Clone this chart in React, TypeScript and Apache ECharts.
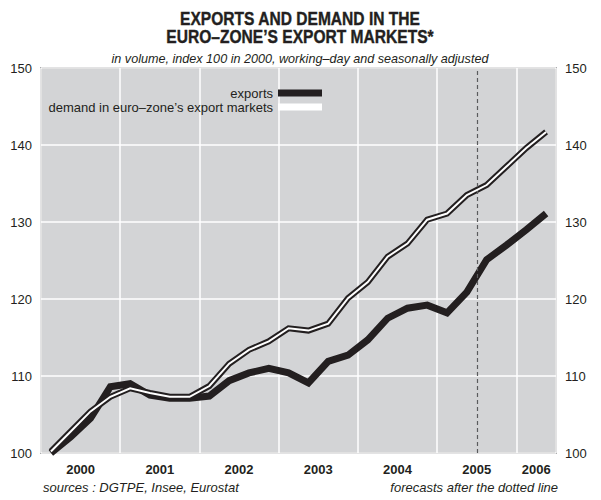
import React, { useEffect, useRef } from "react";
import * as echarts from "echarts";

const years = ["2000", "2001", "2002", "2003", "2004", "2005", "2006"];
const quarters = [
  "2000Q1", "2000Q2", "2000Q3", "2000Q4",
  "2001Q1", "2001Q2", "2001Q3", "2001Q4",
  "2002Q1", "2002Q2", "2002Q3", "2002Q4",
  "2003Q1", "2003Q2", "2003Q3", "2003Q4",
  "2004Q1", "2004Q2", "2004Q3", "2004Q4",
  "2005Q1", "2005Q2", "2005Q3", "2005Q4",
  "2006Q1", "2006Q2",
];
const exportsValues = [
  100.0, 102.1, 104.5, 108.6,
  109.0, 107.5, 107.1, 107.1,
  107.4, 109.4, 110.4, 111.0,
  110.4, 109.1, 111.9, 112.7,
  114.7, 117.5, 118.8, 119.2,
  118.2, 120.9, 125.1, 127.0,
  129.0, 131.1,
];
const demandValues = [
  100.2, 102.8, 105.4, 107.3,
  108.4, 107.8, 107.3, 107.3,
  108.7, 111.6, 113.4, 114.5,
  116.2, 115.9, 116.8, 120.1,
  122.2, 125.5, 127.2, 130.3,
  131.1, 133.5, 134.8, 137.2,
  139.6, 141.7,
];
const yTicks = [100, 110, 120, 130, 140, 150];
const forecastStartQuarter = "2005Q3";

const TITLE_1 = "EXPORTS AND DEMAND IN THE";
const TITLE_2 = "EURO–ZONE’S EXPORT MARKETS*";
const SUBTITLE = "in volume, index 100 in 2000, working–day and seasonally adjusted";
const SOURCES = "sources : DGTPE, Insee, Eurostat";
const NOTE = "forecasts after the dotted line";
const EXPORTS_NAME = "exports";
const DEMAND_NAME = "demand in euro–zone’s export markets";

const SANS = "'Liberation Sans', Arial, Helvetica, sans-serif";
const INK = "#231f20";

export default function App() {
  const ref = useRef<HTMLDivElement>(null);
  useEffect(() => {
    if (!ref.current) return;
    const chart = echarts.init(ref.current, undefined, { renderer: "svg" });
    const nQ = quarters.length;
    const xMax = nQ;
    const pts = (vals: number[]) => vals.map((v, i) => [i + 0.5, v]);
    const forecastX = quarters.indexOf(forecastStartQuarter);
    const labelFor = (v: number) => {
      for (let y = 0; y < years.length; y++) {
        const start = y * 4;
        const end = Math.min(start + 4, xMax);
        if (Math.abs(v - (start + end) / 2) < 1e-6) return years[y];
      }
      return "";
    };
    const yMin = yTicks[0];
    const yMax = yTicks[yTicks.length - 1];
    const yInt = yTicks[1] - yTicks[0];
    const yAxisCommon = {
      type: "value",
      min: yMin,
      max: yMax,
      interval: yInt,
      axisLine: { show: false },
      axisTick: { show: false },
      axisLabel: { color: INK, fontSize: 13, fontFamily: SANS, margin: 9 },
    };
    const titleFont = `bold 19px ${SANS}`;
    chart.setOption({
      animation: false,
      backgroundColor: "#ffffff",
      graphic: [
        {
          type: "text",
          x: 300,
          y: 18,
          scaleX: 0.82,
          style: {
            text: TITLE_1,
            font: titleFont,
            fill: INK,
            stroke: INK,
            lineWidth: 0.4,
            align: "center",
            verticalAlign: "middle",
          },
        },
        {
          type: "text",
          x: 300,
          y: 36,
          scaleX: 0.82,
          style: {
            text: TITLE_2,
            font: titleFont,
            fill: INK,
            stroke: INK,
            lineWidth: 0.4,
            align: "center",
            verticalAlign: "middle",
          },
        },
        {
          type: "text",
          x: 300,
          y: 58,
          scaleX: 0.97,
          style: {
            text: SUBTITLE,
            font: `italic 13px ${SANS}`,
            fill: INK,
            align: "center",
            verticalAlign: "middle",
          },
        },
      ],
      title: [
        {
          text: SOURCES,
          left: 43,
          top: 481,
          padding: 0,
          textStyle: {
            fontFamily: SANS,
            fontStyle: "italic",
            fontWeight: "normal",
            fontSize: 13,
            color: INK,
          },
        },
        {
          text: NOTE,
          right: 43,
          top: 481,
          padding: 0,
          textStyle: {
            fontFamily: SANS,
            fontStyle: "italic",
            fontWeight: "normal",
            fontSize: 13,
            color: INK,
          },
        },
      ],
      legend: {
        orient: "vertical",
        align: "right",
        right: 274,
        top: 81,
        itemWidth: 44,
        itemHeight: 7,
        itemGap: 0,
        icon: "rect",
        data: [
          { name: EXPORTS_NAME, itemStyle: { color: INK } },
          { name: DEMAND_NAME, itemStyle: { color: "#ffffff" } },
        ],
        textStyle: { color: INK, fontSize: 13, fontFamily: SANS, lineHeight: 14 },
        selectedMode: false,
      },
      grid: {
        left: 41,
        right: 45,
        top: 68,
        bottom: 47,
        show: true,
        backgroundColor: "#d3d4d6",
        borderColor: "#6d6e70",
        borderWidth: 1.5,
      },
      xAxis: [
        {
          type: "value",
          min: 0,
          max: xMax,
          interval: 4,
          axisLine: { show: false },
          axisTick: { show: false },
          axisLabel: { show: false },
          splitLine: { show: true, lineStyle: { color: "#ffffff", width: 1.5 } },
        },
        {
          type: "value",
          position: "bottom",
          min: 0,
          max: xMax,
          interval: 1,
          axisLine: { show: false },
          axisTick: { show: false },
          splitLine: { show: false },
          axisLabel: {
            show: true,
            formatter: (v: number) => labelFor(v),
            color: INK,
            fontSize: 13,
            fontWeight: "bold",
            fontFamily: SANS,
            margin: 10,
            showMinLabel: true,
            showMaxLabel: true,
          },
        },
      ],
      yAxis: [
        {
          ...yAxisCommon,
          position: "left",
          splitLine: { show: true, lineStyle: { color: "#ffffff", width: 1.5 } },
        },
        {
          ...yAxisCommon,
          position: "right",
          splitLine: { show: false },
        },
      ],
      series: [
        {
          name: EXPORTS_NAME,
          type: "line",
          xAxisIndex: 0,
          yAxisIndex: 0,
          data: pts(exportsValues),
          showSymbol: false,
          symbol: "none",
          lineStyle: { color: INK, width: 7, join: "miter" },
          itemStyle: { color: INK },
          z: 3,
          markLine: {
            silent: true,
            symbol: ["none", "none"],
            label: { show: false },
            lineStyle: { color: "#5a5b5d", type: [4, 3], width: 1.2 },
            data: [{ xAxis: forecastX }],
          },
        },
        {
          name: "demand-outline",
          type: "line",
          xAxisIndex: 0,
          yAxisIndex: 0,
          data: pts(demandValues),
          showSymbol: false,
          symbol: "none",
          lineStyle: { color: INK, width: 6, join: "miter" },
          z: 4,
        },
        {
          name: DEMAND_NAME,
          type: "line",
          xAxisIndex: 0,
          yAxisIndex: 0,
          data: pts(demandValues),
          showSymbol: false,
          symbol: "none",
          lineStyle: { color: "#ffffff", width: 2, join: "miter" },
          itemStyle: { color: "#ffffff" },
          z: 5,
        },
      ],
    });
    return () => chart.dispose();
  }, []);
  return (
    <div
      ref={ref}
      style={{ position: "absolute", left: 0, top: 0, width: 601, height: 500 }}
    />
  );
}
